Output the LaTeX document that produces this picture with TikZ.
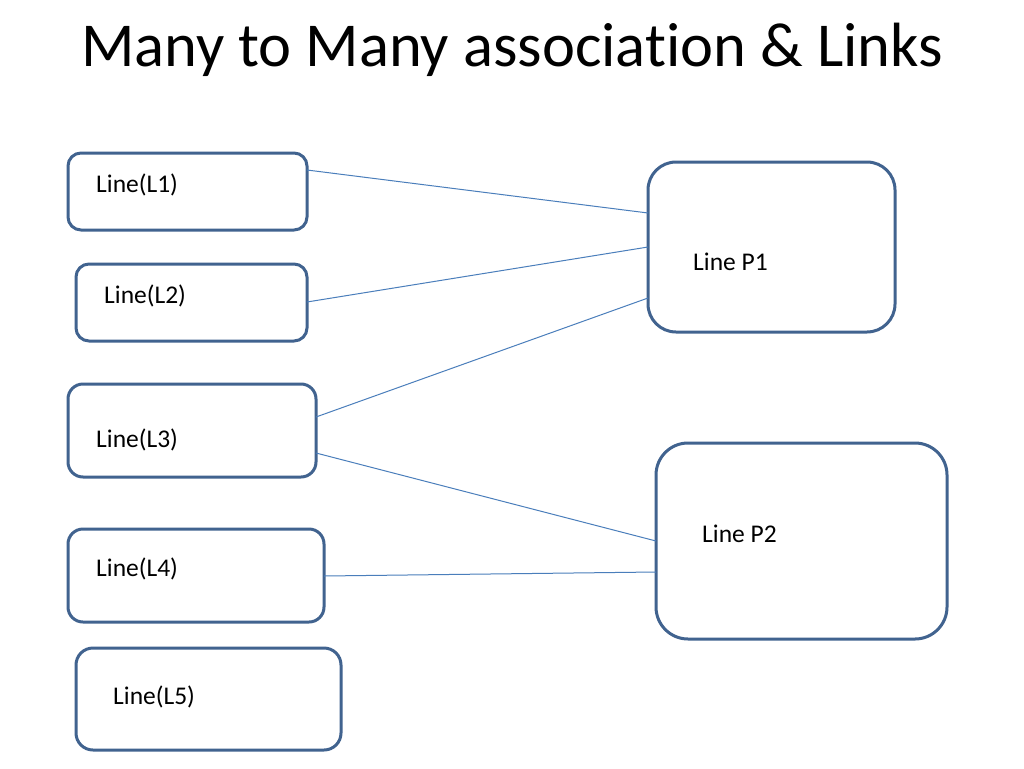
\documentclass[tikz,border=0pt]{standalone}
\usepackage{fontspec}
\setmainfont[Ligatures=NoCommon]{Carlito}
\usetikzlibrary{calc}
\definecolor{boxline}{HTML}{41638F}
\definecolor{conn}{HTML}{4A7EBB}
\begin{document}
\begin{tikzpicture}[x=1pt,y=-1pt,
  box/.style={draw=boxline,line width=3pt,fill=white},
  lbl/.style={anchor=west,inner sep=0pt,font=\fontsize{25.5}{30}\selectfont},
  link/.style={draw=conn,line width=1pt}]
\useasboundingbox (0,0) rectangle (1024,768);
\fill[white] (0,0) rectangle (1024,768);
\node[font=\fontsize{62.5}{70}\selectfont,inner sep=0pt] (title) at (512,50) {Many to Many association \& Links};
% boxes
\draw[box,rounded corners=13pt] (68,153) rectangle (307,230);
\draw[box,rounded corners=13pt] (76,264) rectangle (307,341);
\draw[box,rounded corners=15pt] (68,384) rectangle (316,477);
\draw[box,rounded corners=15pt] (68,529) rectangle (324,622);
\draw[box,rounded corners=17pt] (76,648) rectangle (341,750);
\draw[box,rounded corners=28pt] (648,162) rectangle (895,332);
\draw[box,rounded corners=32pt] (656,443) rectangle (947,639);
% connector end points
\coordinate (L1r) at (307,170);
\coordinate (L2r) at (307,302);
\coordinate (L3ra) at (316,417);
\coordinate (L3rb) at (316,453);
\coordinate (L4r) at (324,576);
\coordinate (P1a) at (648,213);
\coordinate (P1b) at (648,247);
\coordinate (P1c) at (648,298);
\coordinate (P2a) at (656,541);
\coordinate (P2b) at (656,572);
% labels
\node[lbl] (tL1) at (96,185) {Line(L1)};
\node[lbl] (tL2) at (104,296) {Line(L2)};
\node[lbl] (tL3) at (96,440) {Line(L3)};
\node[lbl] (tL4) at (96,569) {Line(L4)};
\node[lbl] (tL5) at (113,697) {Line(L5)};
\node[lbl] (tP1) at (693,262) {Line P1};
\node[lbl] (tP2) at (702,534) {Line P2};
% links
\draw[link] (L1r) -- (P1a);
\draw[link] (L2r) -- (P1b);
\draw[link] (L3ra) -- (P1c);
\draw[link] (L3rb) -- (P2a);
\draw[link] (L4r) -- (P2b);
\end{tikzpicture}
\end{document}
